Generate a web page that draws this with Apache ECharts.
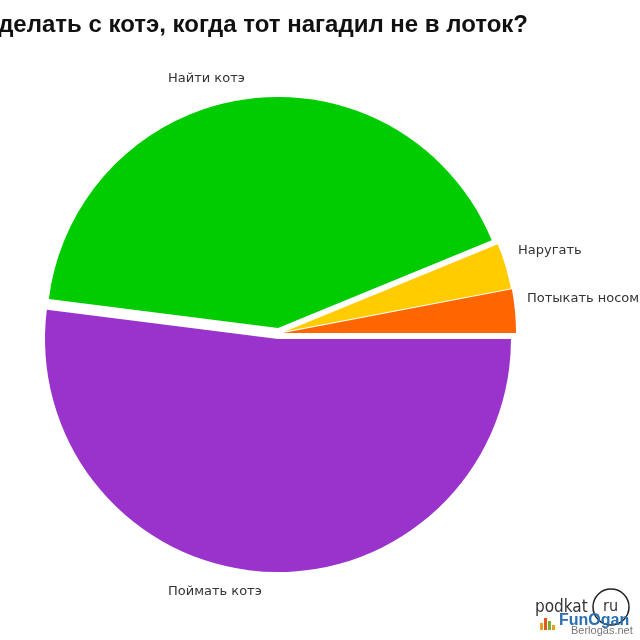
<!DOCTYPE html>
<html><head><meta charset="utf-8">
<style>html,body{margin:0;padding:0;background:#fff}#c{width:640px;height:640px}</style>
<script src="https://cdn.jsdelivr.net/npm/echarts@6/dist/echarts.min.js"></script>
</head><body><div id="c"></div>
<script>
const titleText = 'делать с котэ, когда тот нагадил не в лоток?';
const categories = ['Потыкать носом', 'Наругать', 'Найти котэ', 'Поймать котэ'];
const values = [3.0, 3.2, 41.8, 52.0];
const colors = ['#FF6600', '#FFCC00', '#00CC00', '#9933CC'];
const centers = [[283, 333], [285, 331.5], [278, 328], [278, 339]];
const radii = [233, 230, 231, 233];
const labelSpots = [[527, 299], [518, 251], [168, 79], [168, 592]];

const chart = echarts.init(document.getElementById('c'), null, {renderer: 'canvas'});
const series = categories.map((name, i) => ({
  type: 'pie',
  silent: true,
  animation: false,
  clockwise: false,
  startAngle: 0,
  radius: radii[i],
  center: centers[i],
  avoidLabelOverlap: false,
  labelLine: {show: false},
  labelLayout: p => p.dataIndex === i
    ? {x: labelSpots[i][0], y: labelSpots[i][1], align: 'left', verticalAlign: 'middle', hideOverlap: false}
    : {},
  data: categories.map((n, j) => ({
    name: n,
    value: values[j],
    itemStyle: {color: j === i ? colors[i] : 'rgba(0,0,0,0)'},
    label: {show: j === i, position: 'outside', formatter: '{b}',
            fontFamily: 'DejaVu Sans', fontSize: 13, color: '#333'}
  }))
}));

const t = (text, x, y, style) => ({type: 'text', silent: true, style: Object.assign({text, x, y}, style)});
chart.setOption({
  backgroundColor: '#fff',
  animation: false,
  title: {text: titleText, right: 107, top: 8,
    textStyle: {fontFamily: 'Liberation Sans', fontSize: 24, fontWeight: 'bold', color: '#111'}},
  series,
  graphic: [
    {type: 'circle', silent: true, shape: {cx: 611, cy: 607, r: 18},
     style: {fill: 'transparent', stroke: '#222', lineWidth: 1.5}},
    t('podkat', 535, 608, {font: '17px "DejaVu Sans Condensed"', fill: '#333', verticalAlign: 'middle'}),
    t('ru', 603, 607, {font: '16px "DejaVu Sans Condensed"', fill: '#333', verticalAlign: 'middle'}),
    {type: 'rect', silent: true, shape: {x: 540, y: 623, width: 3, height: 7}, style: {fill: '#e8a020'}},
    {type: 'rect', silent: true, shape: {x: 544, y: 618, width: 3, height: 12}, style: {fill: '#e05a20'}},
    {type: 'rect', silent: true, shape: {x: 548, y: 621, width: 3, height: 9}, style: {fill: '#7ab030'}},
    {type: 'rect', silent: true, shape: {x: 552, y: 625, width: 3, height: 5}, style: {fill: '#e8a020'}},
    t('FunOgan', 559, 621, {font: 'bold 16px "Liberation Sans"', fill: '#2a6fb0', verticalAlign: 'middle'}),
    t('Berlogas.net', 571, 631, {font: '11px "Liberation Sans"', fill: '#777', verticalAlign: 'middle'})
  ]
});
</script></body></html>
